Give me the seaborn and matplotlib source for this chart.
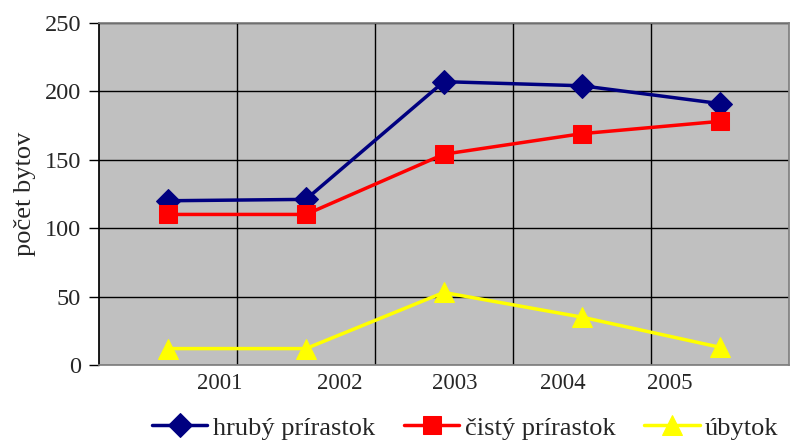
import matplotlib
matplotlib.use("Agg")
import matplotlib.pyplot as plt
import numpy as np
import pandas as pd
import seaborn as sns

roky = ["2001", "2002", "2003", "2004", "2005"]
hruby = [120, 121, 207, 204, 191]
cisty = [110, 110, 154, 169, 178]
ubytok = [12, 12, 53, 35, 13]
nazvy = ["hrubý prírastok", "čistý prírastok", "úbytok"]

sns.set_theme(style="white")
plt.rcParams["font.family"] = ["Liberation Serif", "DejaVu Serif"]

df = pd.DataFrame({
    "x": list(range(len(roky))) * 3,
    "hodnota": hruby + cisty + ubytok,
    "rada": np.repeat(nazvy, len(roky)),
})

fig = plt.figure(figsize=(7.9, 4.41), dpi=100)
ax = fig.add_axes([0.1253, 0.1723, 0.873, 0.776])
ax.set_facecolor("#c0c0c0")

farby = {nazvy[0]: "#000080", nazvy[1]: "#ff0000", nazvy[2]: "#ffff00"}
znacky = {nazvy[0]: "D", nazvy[1]: "s", nazvy[2]: "^"}
velkosti = {nazvy[0]: 12.5, nazvy[1]: 12.5, nazvy[2]: 14}
for n in nazvy:
    d = df[df["rada"] == n]
    sns.lineplot(data=d, x="x", y="hodnota", ax=ax, color=farby[n], lw=2.5,
                 marker=znacky[n], markersize=velkosti[n], markeredgecolor=farby[n],
                 label=n, zorder=3)

ax.set_xlim(-0.5, len(roky) - 0.5)
ax.set_ylim(0, 250)
ax.set_yticks(range(0, 251, 50))
# popisky osi x su v povodnom grafe posunute
ax.set_xticks([0.377, 1.246, 2.08, 2.86, 3.64])
ax.set_xticklabels(roky)
ax.set_xticks(np.arange(0.5, len(roky) - 1, 1), minor=True)
ax.tick_params(axis="x", which="both", length=0, labelsize=16.5, pad=6)
ax.tick_params(axis="y", length=7, width=1, color="black", direction="out", labelsize=17.5, left=True, pad=6)
ax.grid(True, axis="y", color="black", lw=1)
ax.grid(True, axis="x", which="minor", color="black", lw=1)
ax.set_axisbelow(True)
for s in ["top", "right", "bottom"]:
    ax.spines[s].set_color("#808080")
ax.spines["left"].set_color("black")
ax.set_xlabel("")
ax.set_ylabel("počet bytov", fontsize=19)
ax.yaxis.set_label_coords(-0.092, 0.5)

ax.legend(loc="center", bbox_to_anchor=(0.531, -0.184), ncol=3, frameon=False,
          fontsize=19, handlelength=2.1, columnspacing=1.1, handletextpad=0.2,
          borderaxespad=0, borderpad=0)

fig.savefig("out.png", dpi=100)
